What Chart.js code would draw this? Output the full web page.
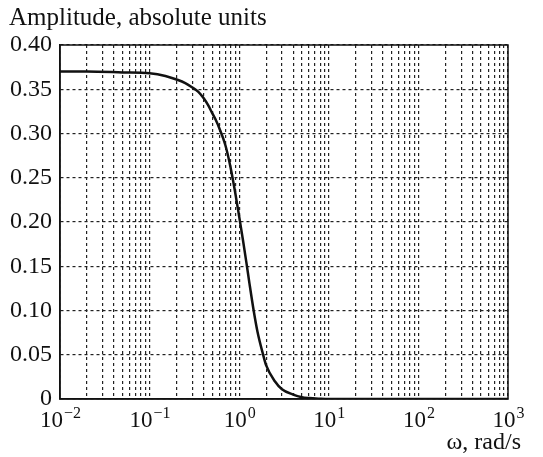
<!DOCTYPE html>
<html lang="en">
<head>
<meta charset="UTF-8">
<title>Amplitude vs frequency</title>
<script src="https://cdn.jsdelivr.net/npm/chart.js"></script>
<style>
    html, body { margin: 0; padding: 0; background: white; }
    #wrap { width: 543px; height: 457px; }
</style>
</head>
<body>
<div id="wrap"><canvas id="ampChart"></canvas></div>
<script>
// curve points
const omega     = [0.01, 0.02, 0.05, 0.1, 0.15, 0.2, 0.25, 0.3, 0.35, 0.4, 0.45, 0.5, 0.55, 0.6, 0.7, 0.8, 0.9, 1.0, 1.1, 1.2, 1.3, 1.45, 1.6, 1.85, 2.0, 2.5, 3.0, 4.0, 5.0, 6.0, 8.0, 10, 100, 1000];
const amplitude = [0.370, 0.370, 0.369, 0.368, 0.365, 0.361, 0.357, 0.352, 0.347, 0.340, 0.332, 0.323, 0.315, 0.306, 0.287, 0.262, 0.234, 0.206, 0.180, 0.155, 0.131, 0.100, 0.076, 0.050, 0.038, 0.020, 0.011, 0.005, 0.002, 0.001, 0.0003, 0, 0, 0];

// axis ticks
const xDecades = [-2, -1, 0, 1, 2, 3];
const yTicks = [0, 0.05, 0.10, 0.15, 0.20, 0.25, 0.30, 0.35, 0.40];
const yTickLabels = ['0', '0.05', '0.10', '0.15', '0.20', '0.25', '0.30', '0.35', '0.40'];

const yTitle = 'Amplitude, absolute units';
const xTitle = 'ω, rad/s';

const serif = "'Liberation Serif', 'Times New Roman', serif";

// 1..9 x 10^k gridlines for every decade
const xGrid = [];
xDecades.forEach((d, i) => {
    const base = Math.pow(10, d);
    if (i === xDecades.length - 1) { xGrid.push(base); return; }
    for (let m = 1; m <= 9; m++) xGrid.push(+(m * base).toPrecision(3));
});

const decorations = {
    id: 'decorations',
    afterDraw(chart) {
        const ctx = chart.ctx;
        const a = chart.chartArea;
        const xs = chart.scales.x;
        ctx.save();
        // frame
        ctx.strokeStyle = '#111';
        ctx.lineWidth = 1.5;
        ctx.strokeRect(a.left, a.top, a.right - a.left, a.bottom - a.top);

        ctx.fillStyle = '#111';
        ctx.textBaseline = 'alphabetic';
        // titles
        ctx.font = '25px ' + serif;
        ctx.textAlign = 'left';
        ctx.fillText(yTitle, 9, 25);
        ctx.font = '24px ' + serif;
        ctx.textAlign = 'right';
        ctx.fillText(xTitle, 521, 449);

        // x tick labels 10^n
        xDecades.forEach(d => {
            const x = xs.getPixelForValue(Math.pow(10, d));
            const exp = d < 0 ? '\u2212' + (-d) : String(d);
            ctx.font = '23px ' + serif;
            const w1 = ctx.measureText('10').width;
            ctx.font = '16px ' + serif;
            const w2 = ctx.measureText(exp).width;
            const start = x - (w1 + w2) / 2;
            ctx.textAlign = 'left';
            ctx.font = '23px ' + serif;
            ctx.fillText('10', start, 427);
            ctx.font = '16px ' + serif;
            ctx.fillText(exp, start + w1 + 1, 418);
        });
        ctx.restore();
    }
};

const ctx1 = document.getElementById('ampChart').getContext('2d');
new Chart(ctx1, {
    type: 'line',
    data: {
        labels: omega,
        datasets: [{
            data: omega.map((w, i) => ({ x: w, y: amplitude[i] })),
            borderColor: '#111',
            borderWidth: 2.5,
            pointRadius: 0,
            fill: false,
            cubicInterpolationMode: 'monotone'
        }]
    },
    options: {
        responsive: true,
        maintainAspectRatio: false,
        animation: false,
        layout: { padding: { top: 45, right: 35, left: 0, bottom: 0 } },
        plugins: {
            legend: { display: false },
            tooltip: { enabled: false }
        },
        scales: {
            x: {
                type: 'logarithmic',
                min: 0.01,
                max: 1000,
                afterBuildTicks: s => { s.ticks = xGrid.map(v => ({ value: v })); },
                afterFit: s => { s.height = 58; },
                ticks: { display: false },
                grid: { color: '#222', lineWidth: 1.2, drawTicks: false },
                border: { display: true, color: '#111', width: 1.5, dash: [3, 3] }
            },
            y: {
                min: 0,
                max: 0.4,
                afterBuildTicks: s => { s.ticks = yTicks.map(v => ({ value: v })); },
                afterFit: s => { s.width = 60; },
                ticks: {
                    color: '#111',
                    font: { family: serif, size: 24 },
                    padding: 8,
                    callback: (v, i) => yTickLabels[i]
                },
                grid: { color: '#222', lineWidth: 1.2, drawTicks: false },
                border: { display: true, color: '#111', width: 1.5, dash: [3, 3] }
            }
        }
    },
    plugins: [decorations]
});
</script>
</body>
</html>
